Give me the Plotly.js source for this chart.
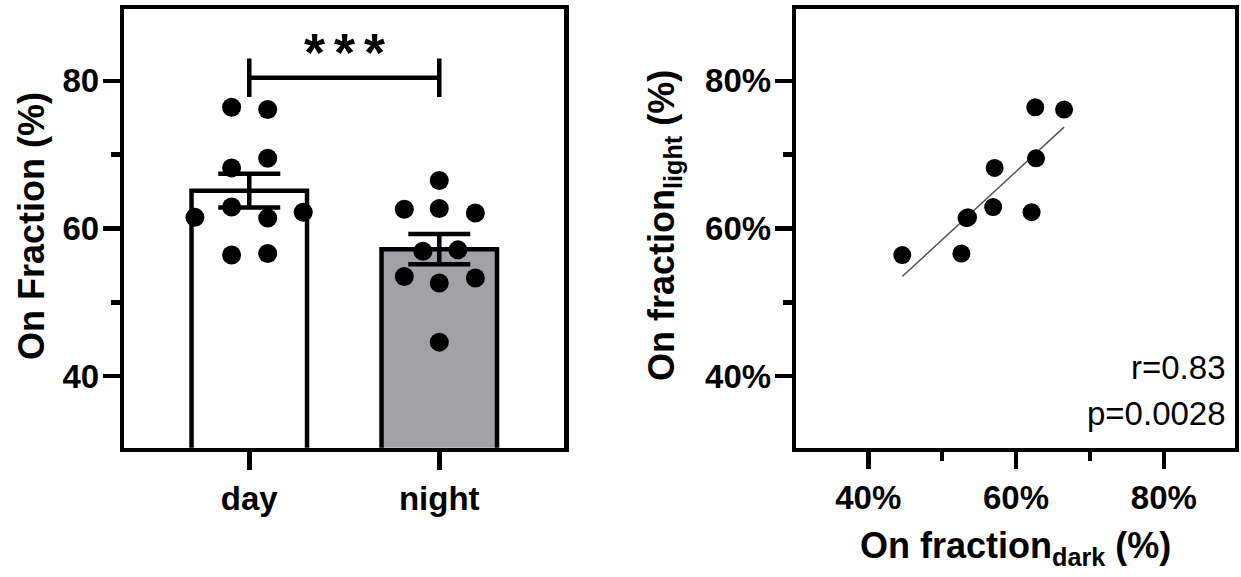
<!DOCTYPE html>
<html>
<head>
<meta charset="utf-8">
<script src="https://cdn.plot.ly/plotly-3.0.1.min.js"></script>
<style>html,body{margin:0;padding:0;background:#fff;}#chart{width:1241px;height:577px;}</style>
</head>
<body>
<div id="chart"></div>
<script>
// ---- data ----
const categories = ['day', 'night'];
// paired subjects: index i is the same animal in both lists
const dayValues   = [76.4, 76.1, 69.5, 68.2, 62.9, 61.4, 61.5, 62.2, 56.4, 56.6];
const nightValues = [62.6, 66.5, 62.7, 57.1, 56.9, 53.3, 53.5, 62.1, 44.6, 52.6];
// horizontal swarm offsets of the dots (category units)
const daySwarm   = [-0.093, 0.097, 0.097, -0.093, -0.093, 0.097, -0.286, 0.284, -0.093, 0.097];
const nightSwarm = [-0.184, 0, 0, 0.098, -0.086, 0.19, -0.184, 0.19, 0, 0];
const yTickVals = [40, 60, 80];
const yMinorVals = [50, 70];
const pctTickText = ['40%', '60%', '80%'];
const sigLabel = '*\u2006*\u2006*';
const sigLevel = 80.4;
const rLabel = 'r=0.83';
const pLabel = 'p=0.0028';

// ---- helpers ----
const mean = a => a.reduce((s, v) => s + v, 0) / a.length;
const sem = a => { const m = mean(a); const v = a.reduce((s, x) => s + (x - m) * (x - m), 0) / (a.length - 1); return Math.sqrt(v / a.length); };
const means = [mean(dayValues), mean(nightValues)];
const sems = [sem(dayValues), sem(nightValues)];
const mx = mean(nightValues), my = mean(dayValues);
let sxy = 0, sxx = 0;
nightValues.forEach((x, i) => { sxy += (x - mx) * (dayValues[i] - my); sxx += (x - mx) * (x - mx); });
const slope = sxy / sxx, intercept = my - slope * mx;
const fitX = [Math.min(...nightValues), Math.max(...nightValues)];
const fitY = fitX.map(x => intercept + slope * x);

const FONT = 'Liberation Sans, Arial, sans-serif';
const LW = 4.5;

const traces = [
  {type: 'bar', x: [0, 1], y: means, width: 0.608, xaxis: 'x', yaxis: 'y',
   marker: {color: ['#ffffff', '#a2a2a6'], line: {color: '#000', width: LW}}, hoverinfo: 'none'},
  {type: 'scatter', mode: 'markers', x: [0, 1], y: means, xaxis: 'x', yaxis: 'y',
   marker: {size: 1, color: 'rgba(0,0,0,0)'},
   error_y: {type: 'data', array: sems, visible: true, color: '#000', thickness: LW, width: 31}},
  {type: 'scatter', mode: 'markers', x: dayValues.map((v, i) => 0 + daySwarm[i]), y: dayValues,
   xaxis: 'x', yaxis: 'y', marker: {size: 19, color: '#000'}, cliponaxis: false},
  {type: 'scatter', mode: 'markers', x: nightValues.map((v, i) => 1 + nightSwarm[i]), y: nightValues,
   xaxis: 'x', yaxis: 'y', marker: {size: 19, color: '#000'}, cliponaxis: false},
  {type: 'scatter', mode: 'lines', x: fitX, y: fitY, xaxis: 'x2', yaxis: 'y2',
   line: {color: '#555', width: 1.5}},
  {type: 'scatter', mode: 'markers', x: nightValues, y: dayValues, xaxis: 'x2', yaxis: 'y2',
   marker: {size: 18, color: '#000'}}
];

const tickFont = {family: FONT, size: 33, color: '#000', weight: 'bold'};
const minorTicks = {tickmode: 'array', tickvals: yMinorVals, ticklen: 8.5, tickwidth: LW, tickcolor: '#000', ticks: 'outside'};
const axisCommon = {showline: true, linecolor: '#000', linewidth: LW, mirror: true, ticks: 'outside',
  tickcolor: '#000', tickwidth: LW, ticklen: 17, showgrid: false, zeroline: false, fixedrange: true,
  tickfont: tickFont};

const layout = {
  width: 1241, height: 577, margin: {l: 0, r: 0, t: 0, b: 0},
  paper_bgcolor: '#fff', plot_bgcolor: '#fff', showlegend: false,
  xaxis: Object.assign({}, axisCommon, {domain: [0.10012, 0.45471], range: [-0.658, 1.658],
    tickmode: 'array', tickvals: [0, 1], ticktext: categories, ticklen: 18, anchor: 'y'}),
  yaxis: Object.assign({}, axisCommon, {domain: [0.224, 0.98354], range: [30.3, 89.65],
    tickmode: 'array', tickvals: yTickVals, anchor: 'x', ticklabelstandoff: -3, minor: minorTicks}),
  xaxis2: Object.assign({}, axisCommon, {domain: [0.64162, 0.99496], range: [30.25, 89.6],
    tickmode: 'array', tickvals: yTickVals, ticktext: pctTickText, anchor: 'y2', minor: minorTicks}),
  yaxis2: Object.assign({}, axisCommon, {domain: [0.224, 0.98354], range: [30.3, 89.65],
    tickmode: 'array', tickvals: yTickVals, ticktext: pctTickText, anchor: 'x2', ticklabelstandoff: -3, minor: minorTicks}),
  shapes: [
    {type: 'path', xref: 'x', yref: 'y',
     path: `M0,${sigLevel - 2.6} L0,${sigLevel + 2.6} M0,${sigLevel} L1,${sigLevel} M1,${sigLevel - 2.6} L1,${sigLevel + 2.6}`,
     line: {color: '#000', width: LW}}
  ],
  annotations: [
    {text: sigLabel, xref: 'x', yref: 'y', x: 0.5, y: 83.85, showarrow: false, xanchor: 'center', yanchor: 'middle',
     font: {family: FONT, size: 54, color: '#000', weight: 'bold'}},
    {text: 'On Fraction (%)', xref: 'paper', yref: 'paper', x: 31 / 1241, y: 1 - 226 / 577, textangle: -90,
     showarrow: false, xanchor: 'center', yanchor: 'middle', font: {family: FONT, size: 36, color: '#000', weight: 'bold'}},
    {text: 'On fraction<sub>light</sub> (%)', xref: 'paper', yref: 'paper', x: 664 / 1241, y: 1 - 226 / 577, textangle: -90,
     showarrow: false, xanchor: 'center', yanchor: 'middle', font: {family: FONT, size: 36, color: '#000', weight: 'bold'}},
    {text: 'On fraction<sub>dark</sub> (%)', xref: 'paper', yref: 'paper', x: 1015.5 / 1241, y: 1 - 548 / 577,
     showarrow: false, xanchor: 'center', yanchor: 'middle', font: {family: FONT, size: 36, color: '#000', weight: 'bold'}},
    {text: rLabel, xref: 'paper', yref: 'paper', x: 1228 / 1241, y: 1 - 368 / 577,
     showarrow: false, xanchor: 'right', yanchor: 'middle', font: {family: FONT, size: 33, color: '#000'}},
    {text: pLabel, xref: 'paper', yref: 'paper', x: 1228 / 1241, y: 1 - 413 / 577,
     showarrow: false, xanchor: 'right', yanchor: 'middle', font: {family: FONT, size: 33, color: '#000'}}
  ]
};

Plotly.newPlot('chart', traces, layout, {displayModeBar: false, staticPlot: true});
</script>
</body>
</html>
